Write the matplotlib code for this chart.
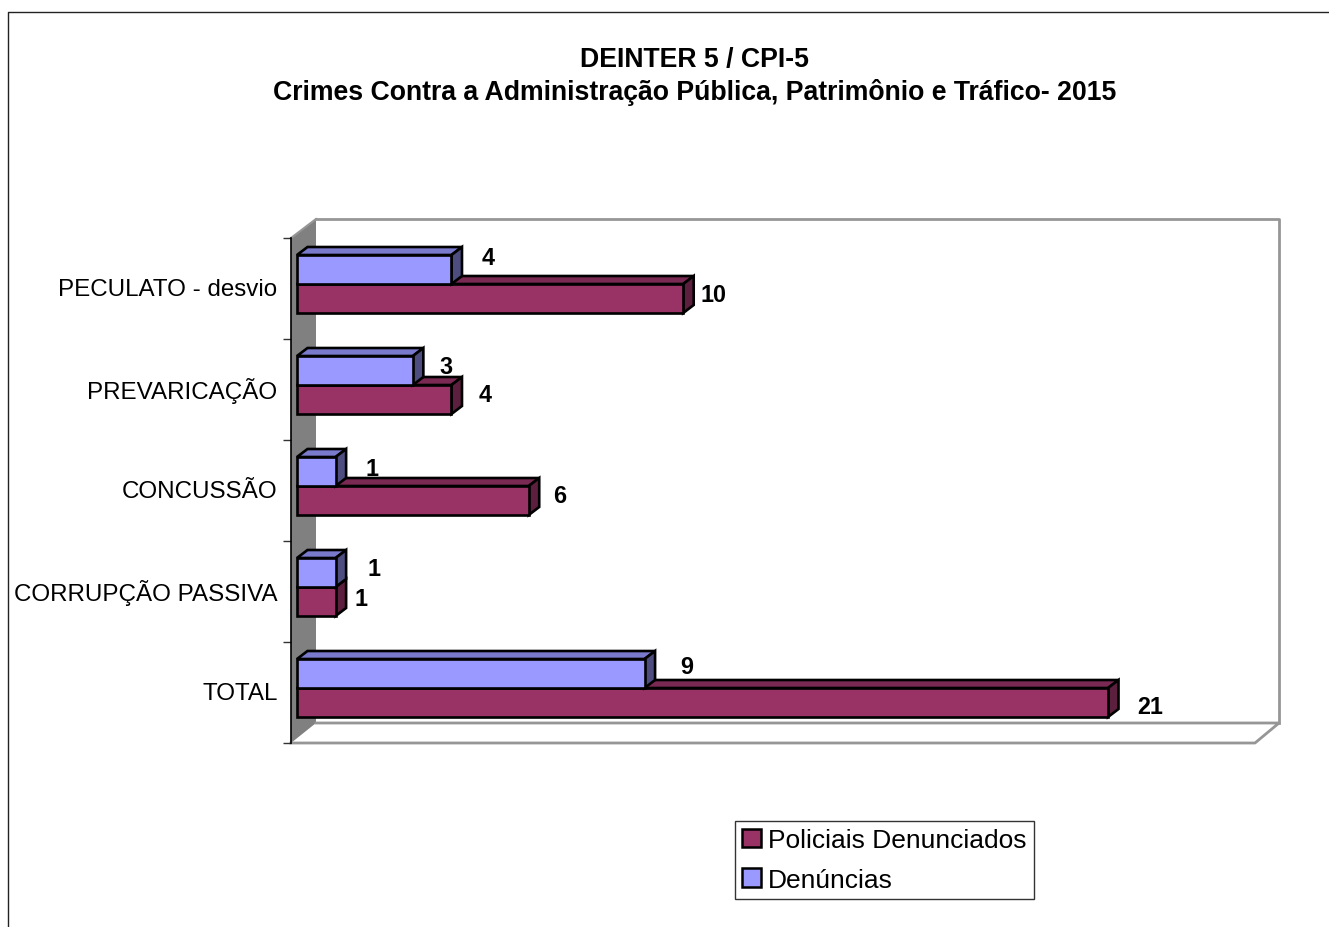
import matplotlib
matplotlib.use("Agg")
import matplotlib.pyplot as plt
from matplotlib.patches import Polygon, Patch

categories = ["PECULATO - desvio", "PREVARICAÇÃO", "CONCUSSÃO", "CORRUPÇÃO PASSIVA", "TOTAL"]
denuncias = [4, 3, 1, 1, 9]
policiais = [10, 4, 6, 1, 21]
title_lines = "DEINTER 5 / CPI-5\nCrimes Contra a Administração Pública, Patrimônio e Tráfico- 2015"

# label nudges in pixels relative to the bar end
den_label_off = [(37, -12), (33, -4), (36, -3), (38, -4), (42, -7)]
pol_label_off = [(30, -4), (34, -5), (31, -5), (25, -3), (42, 4)]

W, H = 1329, 928
plt.rcParams["font.family"] = ["Liberation Sans", "DejaVu Sans"]
fig = plt.figure(figsize=(W / 100, H / 100), dpi=100, facecolor="white")
L, R, T, B = 291, 1255, 239, 744
ax = fig.add_axes([L / W, 1 - B / H, (R - L) / W, (B - T) / H])
PXX = 38.62   # pixels per value
PXY = 101.0   # pixels per category
x0_px = 297
ax.set_xlim((L - x0_px) / PXX, (R - x0_px) / PXX)
ax.set_ylim(5, 0)
for s in ax.spines.values():
    s.set_visible(False)
ax.patch.set_visible(False)
ax.set_xticks([])

def dx(p): return p / PXX
def dy(p): return p / PXY

xl, xr = ax.get_xlim()
wx, wy = dx(25), dy(20)
gray = "#969696"
# left wall
ax.add_patch(Polygon([(xl, 0), (xl + wx, -wy + dy(1)), (xl + wx, 5 - wy), (xl, 5)],
                     closed=True, fc="#808080", ec="none", zorder=1, clip_on=False))
# back wall and floor outline
ax.plot([xl + wx, xr + dx(24), xr + dx(24)], [-wy + dy(1), -wy + dy(1), 5 - wy], color=gray, lw=2.0, zorder=1, clip_on=False)
ax.plot([xl + wx, xr + dx(24), xr, xl], [5 - wy, 5 - wy, 5, 5], color=gray, lw=2.0, zorder=1, clip_on=False)
ax.plot([xl, xl + wx], [0, -wy + dy(1)], color=gray, lw=1.5, zorder=1, clip_on=False)
ax.plot([xl, xl], [0, 5], color="black", lw=1.2, zorder=2, clip_on=False)

ax.set_yticks(range(6))
ax.set_yticklabels([])
ax.set_yticks([i + 0.5 - dy(1.5) for i in range(5)], minor=True)
ax.set_yticklabels(categories, minor=True, fontsize=17.4, color="black")
ax.tick_params(axis="y", which="major", length=6, width=1, color="#333333", direction="out")
ax.tick_params(axis="y", which="minor", length=0, pad=9.7)

h = 29 / PXY
d_x, d_y = dx(10.5), dy(8)
ec = "black"
lw = 1.9

def bar3d(value, top, face, top_c, side_c, z):
    ax.barh(top + h / 2, value, height=h, left=0, color=face, edgecolor=ec, linewidth=lw, zorder=z + 0.2)
    ax.add_patch(Polygon([(0, top), (d_x, top - d_y), (value + d_x, top - d_y), (value, top)],
                         closed=True, fc=top_c, ec=ec, lw=lw, zorder=z, joinstyle="miter"))
    ax.add_patch(Polygon([(value, top), (value + d_x, top - d_y), (value + d_x, top + h - d_y), (value, top + h)],
                         closed=True, fc=side_c, ec=ec, lw=lw, zorder=z, joinstyle="miter"))

for i in range(5):
    top = i + 17 / PXY
    z = 3 + i * 2
    bar3d(policiais[i], top + h, "#993366", "#7A2952", "#5C1F3D", z)
    bar3d(denuncias[i], top, "#9999FF", "#7A7ACC", "#4D4D80", z + 1)
    vfs = 16.8
    ox, oy = den_label_off[i]
    ax.text(denuncias[i] + dx(ox), top + h / 2 + dy(oy), str(denuncias[i]),
            fontsize=vfs, fontweight="bold", ha="center", va="center", zorder=20)
    ox, oy = pol_label_off[i]
    ax.text(policiais[i] + dx(ox), top + h + h / 2 + dy(oy), str(policiais[i]),
            fontsize=vfs, fontweight="bold", ha="center", va="center", zorder=20)

fig.text(695 / W, 1 - 76.5 / H, title_lines, ha="center", va="center", fontsize=19.2,
         fontweight="bold", linespacing=1.31)

handles = [Patch(fc="#993366", ec="black", lw=1.8, label="Policiais Denunciados"),
           Patch(fc="#9999FF", ec="black", lw=1.8, label="Denúncias")]
leg = fig.legend(handles=handles, loc="upper left", bbox_to_anchor=(735 / W, 1 - 821.5 / H),
                 borderaxespad=0, fontsize=19, frameon=True, fancybox=False, framealpha=1,
                 edgecolor="#333333", handlelength=0.72, handleheight=0.68, handletextpad=0.25,
                 borderpad=0.28, labelspacing=0.6)
leg.get_frame().set_linewidth(1.0)

# outer chart border (open to the right and bottom edges of the image)
fig.add_artist(plt.Line2D([7.5 / W, 7.5 / W, 1], [-0.01, 1 - 12.5 / H, 1 - 12.5 / H], color="#222222", lw=1.0,
                          transform=fig.transFigure))

fig.savefig("out.png", dpi=100, facecolor="white")
